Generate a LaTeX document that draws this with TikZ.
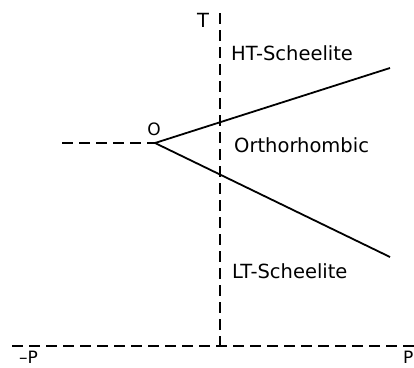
\documentclass[tikz,border=0pt]{standalone}
\usepackage{fontspec}
\setmainfont{DejaVu Sans}
\begin{document}
\begin{tikzpicture}[x=1pt,y=-1pt,
  phase/.style={line width=1.8pt},
  guide/.style={line width=1.3pt,dash pattern=on 11pt off 6pt},
  lbl/.style={inner sep=0pt,font=\fontsize{19.5}{21}\selectfont},
  minorlbl/.style={inner sep=0pt,font=\fontsize{17}{19}\selectfont}]
\useasboundingbox (0,0) rectangle (414,367);
\coordinate (O) at (155,143);
\coordinate (up) at (390,68);
\coordinate (lo) at (390,257);
\coordinate (left) at (62,143);
\coordinate (vt) at (220,13);
\coordinate (vb) at (220,346);
\coordinate (bl) at (12,346);
\coordinate (br) at (414,346);
\draw[phase] (O) -- (up);
\draw[phase] (O) -- (lo);
\draw[guide] (left) -- (O);
\draw[guide] (vt) -- (vb);
\draw[guide] (bl) -- (br);
\node[lbl] (T) at (203,20) {T};
\node[minorlbl] (Olab) at (154,129) {O};
\node[lbl,anchor=west] (ht) at (231,53) {HT-Scheelite};
\node[lbl,anchor=west] (orth) at (234,145) {Orthorhombic};
\node[lbl,anchor=west] (lt) at (232,271) {LT-Scheelite};
\node[minorlbl,anchor=base west] (mp) at (19,363) {–P};
\node[minorlbl,anchor=base west] (pp) at (403,363) {P};
\end{tikzpicture}
\end{document}
